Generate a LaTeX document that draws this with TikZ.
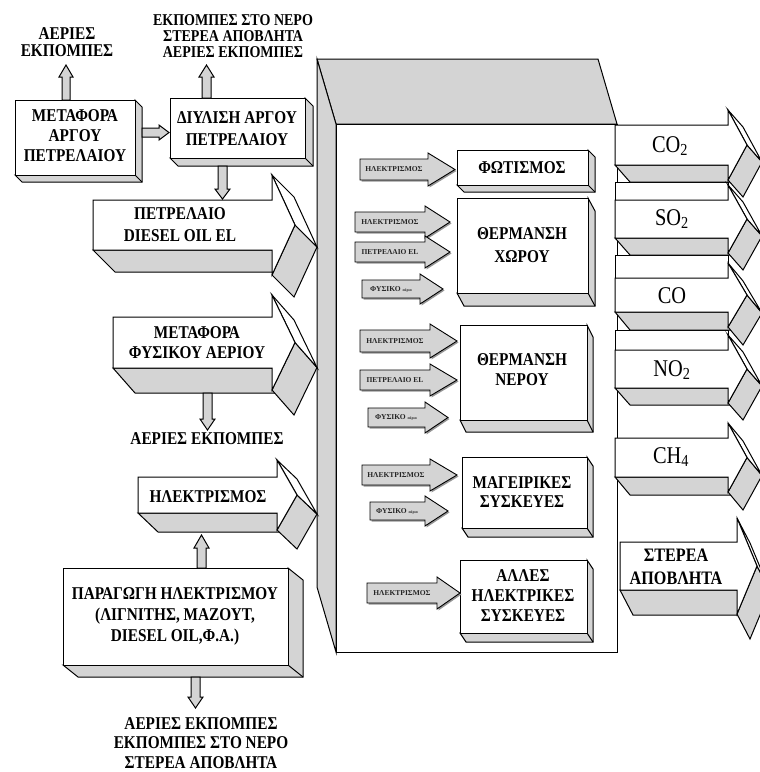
\documentclass[tikz,border=0pt]{standalone}
\usepackage{fontspec}
\setmainfont{Liberation Serif}
\newfontfamily\grf[FakeStretch=0.85]{Liberation Serif}
\definecolor{shade}{RGB}{212,212,212}
\definecolor{shadedark}{RGB}{150,150,150}
\tikzset{
  face/.style={draw=black, line width=1pt, line join=miter},
  gface/.style={face, fill=shade},
  wface/.style={face, fill=white},
  lb/.style={font=\grf\bfseries\fontsize{18}{#1}\selectfont, align=center, inner sep=0pt},
  lb/.default=20,
  chem/.style={font=\grf\fontsize{24}{24}\selectfont, inner sep=0pt},
  sm/.style={font=\bfseries\fontsize{7.5}{8}\selectfont, inner sep=0pt, text=black!85},
}
% 3D right block arrow: x0,x1,ytop,ybot,overhang,xtip,dx,dy
\newcommand\arrowthreeD[8]{%
  \draw[gface] (#1,#4) -- (#2,#4) -- ({#2+#7},{#4+#8}) -- ({#1+#7},{#4+#8}) -- cycle;
  \draw[gface] (#6,{(#3+#4)/2}) -- (#2,{#4+#5}) -- ({#2+#7},{#4+#5+#8}) -- ({#6+#7},{(#3+#4)/2+#8}) -- cycle;
  \draw[wface] (#2,{#3-#5}) -- (#6,{(#3+#4)/2}) -- ({#6+#7},{(#3+#4)/2+#8}) -- ({#2+#7},{#3-#5+#8}) -- cycle;
  \draw[wface] (#1,#3) -- (#2,#3) -- (#2,{#3-#5}) -- (#6,{(#3+#4)/2}) -- (#2,{#4+#5}) -- (#2,#4) -- (#1,#4) -- cycle;
}
% flat right block arrow: x0,x1,ytop,ybot,overhang,xtip
\newcommand\flatR[6]{%
  \draw[gface] (#1,#3) -- (#2,#3) -- (#2,{#3-#5}) -- (#6,{(#3+#4)/2}) -- (#2,{#4+#5}) -- (#2,#4) -- (#1,#4) -- cycle;
}
% small arrow with shadow
\newcommand\smallR[6]{%
  \fill[shadedark] ({#1+1.5},{#3+1.5}) -- ({#2+1.5},{#3+1.5}) -- ({#2+1.5},{#3-#5+1.5}) -- ({#6+1.5},{(#3+#4)/2+1.5}) -- ({#2+1.5},{#4+#5+1.5}) -- ({#2+1.5},{#4+1.5}) -- ({#1+1.5},{#4+1.5}) -- cycle;
  \draw[gface, line width=0.9pt] (#1,#3) -- (#2,#3) -- (#2,{#3-#5}) -- (#6,{(#3+#4)/2}) -- (#2,{#4+#5}) -- (#2,#4) -- (#1,#4) -- cycle;
}
% flat vertical block arrow: xl,xr,ybase,yneck,overhang,ytip
\newcommand\flatV[6]{%
  \draw[gface] (#1,#3) -- (#1,#4) -- ({#1-#5},#4) -- ({(#1+#2)/2},#6) -- ({#2+#5},#4) -- (#2,#4) -- (#2,#3) -- cycle;
}
% 3D box: x0,y0,x1,y1,dx,dy
\newcommand\boxthreeD[6]{%
  \draw[gface] (#3,#2) -- ({#3+#5},{#2+#6}) -- ({#3+#5},{#4+#6}) -- ({#1+#5},{#4+#6}) -- (#1,#4) -- (#3,#4) -- cycle;
  \draw[face] (#3,#4) -- ({#3+#5},{#4+#6});
  \draw[wface] (#1,#2) rectangle (#3,#4);
}
\begin{document}
\begin{tikzpicture}[x=1pt,y=-1pt]
\useasboundingbox (0,0) rectangle (760,772);
\fill[white] (0,0) rectangle (760,772);

% ---------- big box ----------
\draw[gface] (317,59) -- (598,59) -- (617,124) -- (336,124) -- cycle;
\draw[gface] (317,59) -- (336,124) -- (336,652) -- (317,587) -- cycle;
\draw[wface] (336,124) rectangle (617,652);

% ---------- left column ----------
\boxthreeD{15}{100}{135}{175}{7}{7}
\node[lb] (b1) at (75,136) {ΜΕΤΑΦΟΡΑ\\ΑΡΓΟΥ\\ΠΕΤΡΕΛΑΙΟΥ};
\boxthreeD{170}{98}{305}{158}{8}{8}
\node[lb=22] (b2) at (237,129) {ΔΙΥΛΙΣΗ ΑΡΓΟΥ\\ΠΕΤΡΕΛΑΙΟΥ};

\flatV{62}{70}{100}{77}{3}{65}
\node[lb=17] (t1) at (67,42) {ΑΕΡΙΕΣ\\ΕΚΠΟΜΠΕΣ};
\flatV{202}{211}{98}{77}{3}{65}
\node[lb, font=\grf\bfseries\fontsize{16.5}{16}\selectfont] (t2) at (233,36) {ΕΚΠΟΜΠΕΣ ΣΤΟ ΝΕΡΟ\\ΣΤΕΡΕΑ ΑΠΟΒΛΗΤΑ\\ΑΕΡΙΕΣ ΕΚΠΟΜΠΕΣ};
\flatR{142}{159}{128}{137}{3}{169}
\flatV{218}{227}{166}{189}{3}{199}

\arrowthreeD{93}{272}{200}{250}{25}{295}{22}{22}
\node[lb=22] (p1) at (180,225) {ΠΕΤΡΕΛΑΙΟ\\DIESEL OIL EL};

\arrowthreeD{113}{272}{317}{368}{22}{295}{22}{25}
\node[lb] (p2) at (197,343) {ΜΕΤΑΦΟΡΑ\\ΦΥΣΙΚΟΥ ΑΕΡΙΟΥ};
\flatV{203}{212}{393}{419}{3}{430}
\node[lb] (t3) at (207,439) {ΑΕΡΙΕΣ ΕΚΠΟΜΠΕΣ};

\arrowthreeD{138}{277}{477}{513}{17}{297}{20}{19}
\node[lb] (p3) at (208,497) {ΗΛΕΚΤΡΙΣΜΟΣ};
\flatV{197}{206}{568}{548}{3}{535}

\boxthreeD{63}{568}{288}{665}{15}{12}
\node[lb=21] (b3) at (175,616) {ΠΑΡΑΓΩΓΗ ΗΛΕΚΤΡΙΣΜΟΥ\\(ΛΙΓΝΙΤΗΣ, ΜΑΖΟΥΤ,\\DIESEL OIL,Φ.Α.)};
\flatV{191}{200}{677}{697}{3}{708}
\node[lb=19.5] (t4) at (201,743) {ΑΕΡΙΕΣ ΕΚΠΟΜΠΕΣ\\ΕΚΠΟΜΠΕΣ ΣΤΟ ΝΕΡΟ\\ΣΤΕΡΕΑ ΑΠΟΒΛΗΤΑ};

% ---------- inner boxes ----------
\boxthreeD{457}{150}{588}{185}{7}{7}
\node[lb] (c1) at (522,168) {ΦΩΤΙΣΜΟΣ};
\smallR{360}{428}{159}{180}{6}{455}
\node[sm] (s1) at (394,169.5) {ΗΛΕΚΤΡΙΣΜΟΣ};

\boxthreeD{457}{198}{588}{293}{7}{13}
\node[lb=23] (c2) at (522,245) {ΘΕΡΜΑΝΣΗ\\ΧΩΡΟΥ};
\smallR{355}{425}{212}{232}{6}{450}
\node[sm] (s2) at (390,222) {ΗΛΕΚΤΡΙΣΜΟΣ};
\smallR{355}{425}{242}{262}{6}{450}
\node[sm] (s3) at (390,252) {ΠΕΤΡΕΛΑΙΟ EL};
\smallR{362}{420}{280}{298}{6}{443}
\node[sm] (s4) at (391,289) {ΦΥΣΙΚΟ {\fontsize{4}{4}\selectfont αέριο}};

\boxthreeD{460}{325}{587}{420}{6}{12}
\node[lb] (c3) at (522,370) {ΘΕΡΜΑΝΣΗ\\ΝΕΡΟΥ};
\smallR{360}{430}{330}{352}{6}{457}
\node[sm] (s5) at (395,341) {ΗΛΕΚΤΡΙΣΜΟΣ};
\smallR{360}{430}{370}{390}{6}{457}
\node[sm] (s6) at (395,380) {ΠΕΤΡΕΛΑΙΟ EL};
\smallR{368}{425}{408}{427}{6}{448}
\node[sm] (s7) at (396,417.5) {ΦΥΣΙΚΟ {\fontsize{4}{4}\selectfont αέριο}};

\boxthreeD{462}{457}{587}{528}{6}{9}
\node[lb=19] (c4) at (522,492) {ΜΑΓΕΙΡΙΚΕΣ\\ΣΥΣΚΕΥΕΣ};
\smallR{362}{430}{465}{485}{6}{457}
\node[sm] (s8) at (396,475) {ΗΛΕΚΤΡΙΣΜΟΣ};
\smallR{370}{425}{502}{520}{6}{448}
\node[sm] (s9) at (397,511) {ΦΥΣΙΚΟ {\fontsize{4}{4}\selectfont αέριο}};

\boxthreeD{460}{560}{587}{633}{6}{9}
\node[lb] (c5) at (523,596) {ΑΛΛΕΣ\\ΗΛΕΚΤΡΙΚΕΣ\\ΣΥΣΚΕΥΕΣ};
\smallR{367}{437}{583}{603}{6}{460}
\node[sm] (s10) at (402,593) {ΗΛΕΚΤΡΙΣΜΟΣ};

% ---------- output arrows ----------
\draw[wface] (615,182) rectangle (728,200);
\arrowthreeD{615}{728}{125}{165}{15}{747}{15}{17}
\node[chem] (o1) at (670,146) {CO\textsubscript{2}};
\draw[wface] (615,255) rectangle (728,278);
\arrowthreeD{615}{728}{200}{238}{15}{747}{15}{17}
\node[chem] (o2) at (672,219) {SO\textsubscript{2}};
\draw[wface] (615,330) rectangle (728,350);
\arrowthreeD{615}{728}{278}{312}{15}{747}{15}{18}
\node[chem] (o3) at (672,296) {CO};
\arrowthreeD{615}{728}{350}{388}{15}{747}{15}{17}
\node[chem] (o4) at (672,370) {NO\textsubscript{2}};
\arrowthreeD{615}{728}{438}{477}{15}{747}{15}{18}
\node[chem] (o5) at (671,457) {CH\textsubscript{4}};
\arrowthreeD{620}{737}{542}{590}{24}{757}{13}{25}
\node[lb=23, font=\grf\bfseries\fontsize{19}{23}\selectfont] (o6) at (676,567) {ΣΤΕΡΕΑ\\ΑΠΟΒΛΗΤΑ};
\end{tikzpicture}
\end{document}
